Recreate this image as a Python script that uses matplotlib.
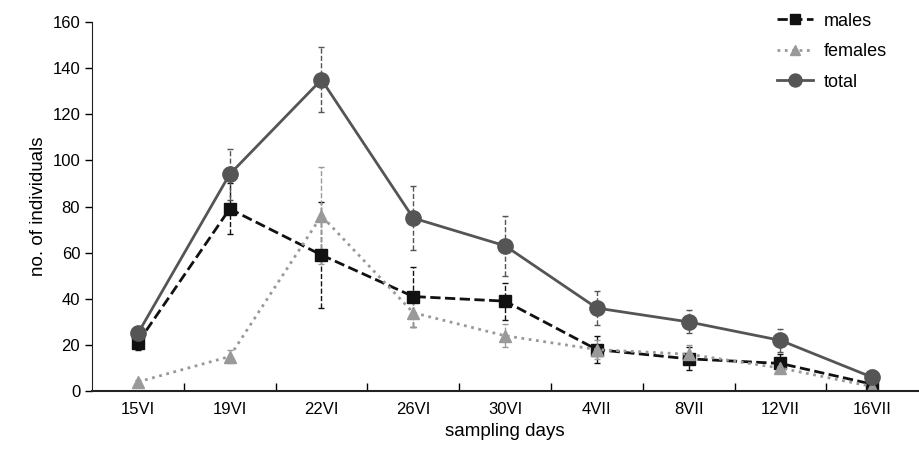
import matplotlib
matplotlib.use("Agg")
import matplotlib.pyplot as plt
from matplotlib.lines import Line2D
import numpy as np

plt.rcParams['font.family'] = ['Liberation Sans', 'DejaVu Sans']

days = ['15VI', '19VI', '22VI', '26VI', '30VI', '4VII', '8VII', '12VII', '16VII']
males = [21, 79, 59, 41, 39, 18, 14, 12, 3]
males_err = [3, 11, 23, 13, 8, 6, 5, 4, 1]
females = [4, 15, 76, 34, 24, 18, 16, 10, 2]
females_err = [1, 3, 21, 6, 5, 4, 4, 2, 1]
total = [25, 94, 135, 75, 63, 36, 30, 22, 6]
total_err = [2, 11, 14, 14, 13, 7.5, 5, 5, 3]

x = np.arange(len(days))

fig = plt.figure(figsize=(9.2, 4.58), dpi=100)
ax = fig.add_axes([0.1, 0.146, 0.898, 0.806])

series = [
    (males, males_err, 'males', '#111111', '--', 's', 8.5),
    (females, females_err, 'females', '#999999', ':', '^', 9),
    (total, total_err, 'total', '#555555', '-', 'o', 11),
]
handles = []
for vals, err, lab, col, ls, mk, ms in series:
    eb = ax.errorbar(x, vals, yerr=err, color=col, linestyle=ls, marker=mk,
                     markersize=ms, linewidth=2, elinewidth=1, capsize=2.5,
                     capthick=1)
    eb[2][0].set_linestyle('--')
    handles.append(Line2D([], [], color=col, linestyle=ls, marker=mk,
                          markersize=ms * 0.85, linewidth=2, label=lab))

ax.set_xlim(-0.5, len(days) - 0.5)
ax.set_ylim(0, 160)
ax.set_yticks(np.arange(0, 161, 20))
ax.set_xticks(x)
ax.set_xticklabels(days)
ax.set_xticks(np.arange(0.5, len(days) - 0.5, 1), minor=True)
ax.tick_params(axis='x', which='major', length=0, labelsize=12, pad=8)
ax.tick_params(axis='x', which='minor', length=6, width=1, direction='in')
ax.tick_params(axis='y', labelsize=12, length=5, width=1)
for s in ['top', 'right']:
    ax.spines[s].set_visible(False)
ax.spines['left'].set_color('#222222')
ax.spines['bottom'].set_color('#222222')
ax.spines['bottom'].set_linewidth(1.5)

ax.set_xlabel('sampling days', fontsize=13.5, labelpad=4)
ax.set_ylabel('no. of individuals', fontsize=13.5)

ax.legend(handles=handles, loc='upper left', frameon=False, fontsize=13,
          handlelength=2.0, handletextpad=0.6, labelspacing=0.75,
          borderaxespad=0, bbox_to_anchor=(0.82, 1.045))

fig.savefig('out.png', dpi=100)
